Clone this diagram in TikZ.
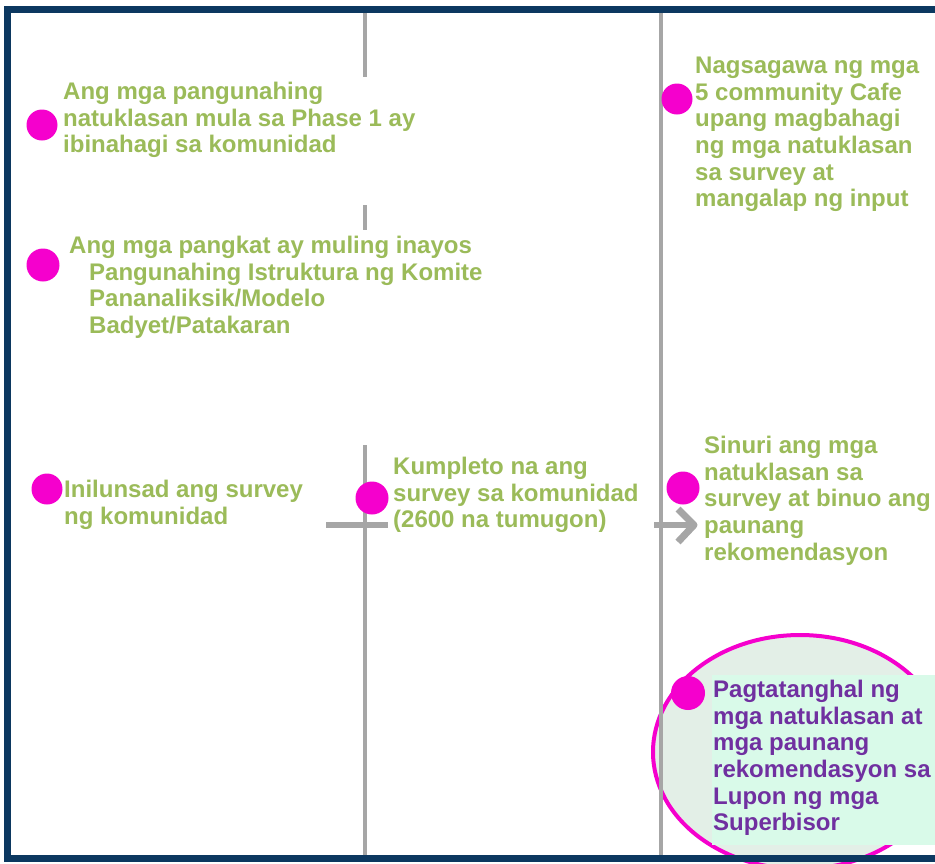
\documentclass[tikz,border=0pt]{standalone}
\usepackage{fontspec}
\setmainfont{Liberation Sans}
\usetikzlibrary{positioning}

\definecolor{framenavy}{RGB}{12,56,96}
\definecolor{linegray}{RGB}{166,166,166}
\definecolor{itemgreen}{RGB}{155,187,89}
\definecolor{itempurple}{RGB}{112,48,160}
\definecolor{dotpink}{RGB}{245,0,205}
\definecolor{ovalfill}{RGB}{227,239,231}
\definecolor{mintbox}{RGB}{217,250,233}

\begin{document}
\begin{tikzpicture}[x=1pt, y=-1pt,
  dot/.style = {circle, fill=dotpink, minimum size=#1, inner sep=0pt, outer sep=0pt}, dot/.default = 31pt,
  item/.style = {anchor=north west, align=left, inner sep=0pt, text=itemgreen, font=\fontsize{24}{26.6}\selectfont\bfseries},
  axis/.style = {linegray, line width=4pt},
  bar/.style = {linegray, line width=6pt}]

\clip (0,0) rectangle (935,863);
\fill[white] (0,0) rectangle (935,863);

% Oval behind the last step
\draw[dotpink, line width=4pt, fill=ovalfill] (800,752) ellipse [x radius=147, y radius=117];

% Timeline axes
\draw[axis] (365,12) -- (365,858);
\draw[axis] (661,12) -- (661,858);

% Cross bars
\coordinate (b1w) at (326,525);
\coordinate (b1e) at (388,525);
\coordinate (b2w) at (654,525);
\coordinate (b2e) at (690,525);
\draw[bar] (b1w) -- (b1e);
\draw[bar] (b2w) -- (b2e);
\draw[bar, line width=7pt, line join=round] (678,509) -- (694,525) -- (678,542);

% White patches over the first axis
\fill[white] (58,77) rectangle (388,205);
\fill[white] (58,230) rectangle (490,445);

% Mint box behind the last text
\fill[mintbox] (712,675) rectangle (935,845);

% Frame
\draw[framenavy, line width=7pt] (7,9) rectangle (950,858);

% Dots
\node[dot] (d1) at (42,125) {};
\node[dot=33pt] (d2) at (43,265) {};
\node[dot] (d3) at (47,489) {};
\node[dot=33pt] (d4) at (372,498) {};
\node[dot] (d5) at (677,99) {};
\node[dot=33pt] (d6) at (683,488) {};
\node[dot=34pt] (d7) at (688,693) {};

% Texts
\node[item] (t1) at (63,82) {Ang mga pangunahing\\natuklasan mula sa Phase 1 ay\\ibinahagi sa komunidad};
\node[item] (t2) at (69,236) {Ang mga pangkat ay muling inayos\\\hspace*{20pt}Pangunahing Istruktura ng Komite\\\hspace*{20pt}Pananaliksik/Modelo\\\hspace*{20pt}Badyet/Patakaran};
\node[item] (t3) at (64,480) {Inilunsad ang survey\\ng komunidad};
\node[item] (t4) at (393,457) {Kumpleto na ang\\survey sa komunidad\\(2600 na tumugon)};
\node[item] (t5) at (695,57) {Nagsagawa ng mga\\5 community Cafe\\upang magbahagi\\ng mga natuklasan\\sa survey at\\mangalap ng input};
\node[item] (t6) at (704,436) {Sinuri ang mga\\natuklasan sa\\survey at binuo ang\\paunang\\rekomendasyon};
\node[item, text=itempurple] (t7) at (713,680) {Pagtatanghal ng\\mga natuklasan at\\mga paunang\\rekomendasyon sa\\Lupon ng mga\\Superbisor};

\end{tikzpicture}
\end{document}
